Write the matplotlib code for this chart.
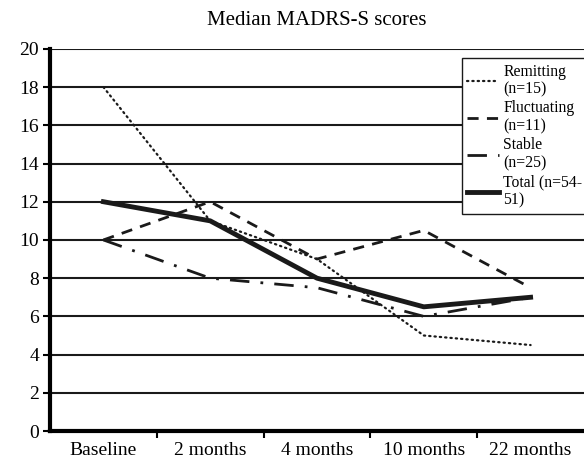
import matplotlib.pyplot as plt

plt.rcParams['font.family'] = ['Liberation Serif', 'DejaVu Serif']

timepoints = ['Baseline', '2 months', '4 months', '10 months', '22 months']
remitting = [18, 11, 9, 5, 4.5]
fluctuating = [10, 12, 9, 10.5, 7.5]
stable = [10, 8, 7.5, 6, 7]
total = [12, 11, 8, 6.5, 7]

fig = plt.figure(figsize=(5.84, 4.61), dpi=100)
ax = fig.add_axes([0.0856, 0.065, 0.9144, 0.829])

x = range(len(timepoints))
ax.plot(x, remitting, color='#1a1a1a', lw=1.6, linestyle=(0, (0.6, 1.8)),
        dash_capstyle='round', label='Remitting\n(n=15)')
ax.plot(x, fluctuating, color='#1a1a1a', lw=2, linestyle=(0, (4, 3)),
        label='Fluctuating\n(n=11)')
ax.plot(x, stable, color='#1a1a1a', lw=2, linestyle=(0, (7, 4, 1, 4)),
        label='Stable\n(n=25)')
ax.plot(x, total, color='#1a1a1a', lw=3.5, label='Total (n=54-\n51)')

ax.set_xlim(-0.5, 4.5)
ax.set_ylim(0, 20)
ax.set_yticks(range(0, 21, 2))
ax.set_xticks(list(x))
ax.set_xticklabels(timepoints)
ax.set_xticks([0.5, 1.5, 2.5, 3.5], minor=True)
ax.tick_params(axis='x', which='major', length=0, labelsize=14, pad=8)
ax.tick_params(axis='x', which='minor', length=5, width=1.5, direction='out')
ax.tick_params(axis='y', length=5, width=1.5, labelsize=14, pad=3)
ax.yaxis.grid(True, color='#1a1a1a', lw=1.5)
ax.set_axisbelow(True)

for s in ['top', 'right']:
    ax.spines[s].set_visible(False)
ax.spines['left'].set_linewidth(3)
ax.spines['bottom'].set_linewidth(3)

ax.set_title('Median MADRS-S scores', fontsize=15, pad=17)

leg = ax.legend(loc='upper left', bbox_to_anchor=(0.771, 0.976), fontsize=11.3,
                handlelength=2.0, handletextpad=0.3, labelspacing=0.2,
                borderaxespad=0, fancybox=False, framealpha=1, borderpad=0.35)
for t in leg.get_texts():
    t.set_linespacing(1.15)
leg.get_frame().set_edgecolor('#1a1a1a')
leg.get_frame().set_linewidth(1)

fig.savefig('out.png', dpi=100)
